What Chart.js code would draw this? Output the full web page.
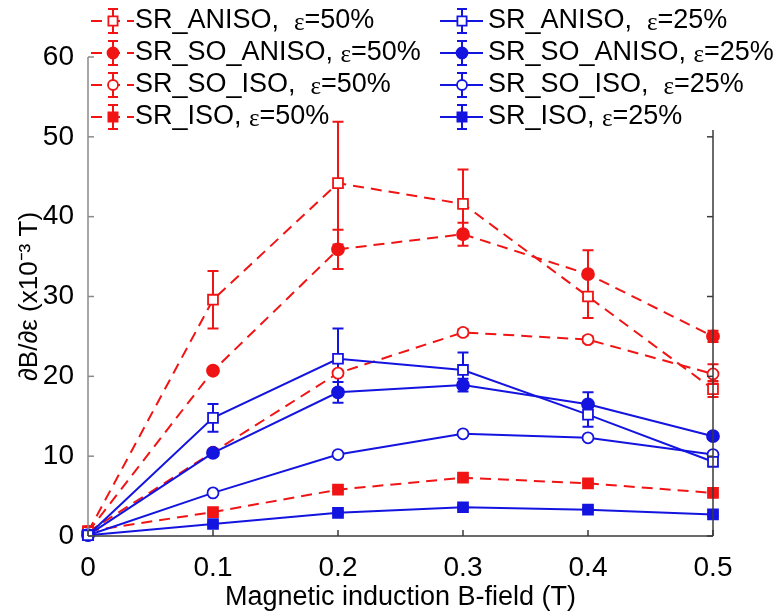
<!DOCTYPE html>
<html><head><meta charset="utf-8">
<script src="https://cdn.jsdelivr.net/npm/chart.js@4/dist/chart.umd.min.js"></script>
<style>html,body{margin:0;padding:0;background:#fff}#wrap{width:778px;height:615px}</style>
</head><body><div id="wrap"><canvas id="c" width="778" height="615"></canvas></div>
<script>
// ---------------- data ----------------
const bField = [0, 0.1, 0.2, 0.3, 0.4, 0.5];
const xTicks = [0, 0.1, 0.2, 0.3, 0.4, 0.5];
const yTicks = [0, 10, 20, 30, 40, 50, 60];

const srAniso50      = [0.5, 29.6, 44.2, 41.6, 30.0, 18.4];
const srAniso50Err   = [0,   3.6,  7.7,  4.3,  2.7,  1.0];
const srSoAniso50    = [0.5, 20.7, 35.9, 37.8, 32.8, 25.0];
const srSoAniso50Err = [0,   0.3,  2.45, 1.45, 3.0,  0.7];
const srSoIso50      = [0.5, 10.5, 20.4, 25.5, 24.6, 20.3];
const srSoIso50Err   = [0,   0.3,  0.3,  0.4,  0.4,  1.2];
const srIso50        = [0.6, 3.0,  5.8,  7.3,  6.6,  5.4];
const srIso50Err     = [0,   0.2,  0.2,  0.2,  0.2,  0.2];

const srAniso25      = [0.1, 14.8, 22.2, 20.8, 15.2, 9.3];
const srAniso25Err   = [0,   1.75, 3.8,  2.2,  1.5,  0.6];
const srSoAniso25    = [0.1, 10.4, 18.0, 18.9, 16.5, 12.5];
const srSoAniso25Err = [0,   0.3,  1.3,  0.8,  1.5,  0.3];
const srSoIso25      = [0.1, 5.4,  10.2, 12.8, 12.3, 10.2];
const srSoIso25Err   = [0,   0.2,  0.2,  0.2,  0.2,  0.2];
const srIso25        = [0.1, 1.5,  2.9,  3.6,  3.3,  2.7];
const srIso25Err     = [0,   0.2,  0.2,  0.2,  0.2,  0.2];

const seriesNames = ['SR_ANISO,  ', 'SR_SO_ANISO, ', 'SR_SO_ISO,  ', 'SR_ISO, '];
const strains = ['50%', '25%'];
const xTitle = 'Magnetic induction B-field (T)';
const yTitle = '\u2202B/\u2202\u03b5 (x10\u207b\u00b3 T)';

// ---------------- styles ----------------
const RED = '#f01414';
const BLUE = '#1414e0';
const FONT = "'Liberation Sans', Arial, sans-serif";

function pts(vals){ return bField.map((x,i)=>({x:x, y:vals[i]})); }

const markerStyles = [
  {pointStyle:'rect',   radius:7,   open:true},
  {pointStyle:'circle', radius:6,   open:false},
  {pointStyle:'circle', radius:5.5, open:true},
  {pointStyle:'rect',   radius:7,   open:false}
];

function mkDataset(vals, errs, nameIdx, strainIdx){
  const col = strainIdx === 0 ? RED : BLUE;
  const m = markerStyles[nameIdx];
  return {
    label: seriesNames[nameIdx] + '\u03b5=' + strains[strainIdx],
    data: pts(vals),
    errors: errs,
    nameIdx: nameIdx, strainIdx: strainIdx,
    borderColor: col,
    borderWidth: 2,
    borderDash: strainIdx === 0 ? [11, 7] : [],
    pointStyle: m.pointStyle,
    pointRadius: m.radius,
    pointBorderWidth: 1.8,
    pointBorderColor: col,
    pointBackgroundColor: m.open ? '#ffffff' : col,
    fill: false,
    tension: 0,
    clip: false,
    order: strainIdx === 0 ? 2 : 1
  };
}

const datasets = [
  mkDataset(srAniso50,   srAniso50Err,   0, 0),
  mkDataset(srSoAniso50, srSoAniso50Err, 1, 0),
  mkDataset(srSoIso50,   srSoIso50Err,   2, 0),
  mkDataset(srIso50,     srIso50Err,     3, 0),
  mkDataset(srAniso25,   srAniso25Err,   0, 1),
  mkDataset(srSoAniso25, srSoAniso25Err, 1, 1),
  mkDataset(srSoIso25,   srSoIso25Err,   2, 1),
  mkDataset(srIso25,     srIso25Err,     3, 1)
];

const LEGEND_BOTTOM = 130;

const errorBars = {
  id: 'errorBars',
  beforeDatasetsDraw(chart){
    const ctx = chart.ctx, xs = chart.scales.x, ys = chart.scales.y;
    ctx.save();
    const order = chart.data.datasets.map((d,i)=>i).sort((a,b)=>chart.data.datasets[b].order - chart.data.datasets[a].order);
    order.forEach(di => {
      const ds = chart.data.datasets[di];
      ctx.strokeStyle = ds.borderColor;
      ctx.lineWidth = 2;
      ctx.setLineDash([]);
      ds.data.forEach((p, i) => {
        const e = ds.errors[i];
        if (!e) return;
        const x = xs.getPixelForValue(p.x);
        const y1 = ys.getPixelForValue(p.y + e);
        const y2 = ys.getPixelForValue(p.y - e);
        const cw = 5.5;
        ctx.beginPath();
        ctx.moveTo(x, y1); ctx.lineTo(x, y2);
        ctx.moveTo(x - cw, y1); ctx.lineTo(x + cw, y1);
        ctx.moveTo(x - cw, y2); ctx.lineTo(x + cw, y2);
        ctx.stroke();
      });
    });
    ctx.restore();
  }
};

const axesAndLegend = {
  id: 'axesAndLegend',
  afterDatasetsDraw(chart){
    const ctx = chart.ctx, xs = chart.scales.x, ys = chart.scales.y;
    const a = chart.chartArea;
    ctx.save();
    ctx.setLineDash([]);
    ctx.strokeStyle = '#8a8a8a'; ctx.lineWidth = 1.5;
    ctx.beginPath(); ctx.moveTo(a.left, a.top); ctx.lineTo(a.left, a.bottom); ctx.stroke();
    yTicks.forEach(v => { const y = ys.getPixelForValue(v);
      ctx.beginPath(); ctx.moveTo(a.left, y); ctx.lineTo(a.left + 6, y); ctx.stroke(); });
    ctx.strokeStyle = '#3a3a3a'; ctx.lineWidth = 1.5;
    ctx.beginPath(); ctx.moveTo(a.left, a.bottom); ctx.lineTo(a.right, a.bottom); ctx.stroke();
    ctx.beginPath(); ctx.moveTo(a.right, LEGEND_BOTTOM); ctx.lineTo(a.right, a.bottom); ctx.stroke();
    xTicks.forEach(v => { const x = xs.getPixelForValue(v);
      ctx.beginPath(); ctx.moveTo(x, a.bottom); ctx.lineTo(x, a.bottom - 6); ctx.stroke(); });
    yTicks.forEach(v => { const y = ys.getPixelForValue(v);
      if (y < LEGEND_BOTTOM) return;
      ctx.beginPath(); ctx.moveTo(a.right, y); ctx.lineTo(a.right - 6, y); ctx.stroke(); });
    ctx.restore();
  },
  afterDraw(chart){
    const ctx = chart.ctx;
    ctx.save();
    const colMarkerX = [113, 462];
    const colTextX = [135, 488];
    const rowY = r => 21 + r * 32;
    chart.data.datasets.forEach(ds => {
      const c = ds.strainIdx, r = ds.nameIdx;
      const mx = colMarkerX[c], y = rowY(r);
      ctx.strokeStyle = ds.borderColor; ctx.lineWidth = 2;
      ctx.setLineDash(ds.borderDash);
      ctx.beginPath(); ctx.moveTo(mx - 22, y); ctx.lineTo(mx + 21, y); ctx.stroke();
      ctx.setLineDash([]);
      const eh = 12, cw = 5;
      ctx.beginPath();
      ctx.moveTo(mx, y - eh); ctx.lineTo(mx, y + eh);
      ctx.moveTo(mx - cw, y - eh); ctx.lineTo(mx + cw, y - eh);
      ctx.moveTo(mx - cw, y + eh); ctx.lineTo(mx + cw, y + eh);
      ctx.stroke();
      ctx.fillStyle = ds.pointBackgroundColor;
      ctx.strokeStyle = ds.pointBorderColor;
      ctx.lineWidth = ds.pointBorderWidth;
      Chart.helpers.drawPoint(ctx, {pointStyle: ds.pointStyle, radius: ds.pointRadius - 0.5, rotation: 0, borderWidth: ds.pointBorderWidth}, mx, y);
      ctx.fillStyle = '#000';
      ctx.textBaseline = 'middle';
      ctx.textAlign = 'left';
      let tx = colTextX[c];
      ctx.font = '27px ' + FONT;
      const t1 = seriesNames[r];
      ctx.fillText(t1, tx, y); tx += ctx.measureText(t1).width;
      ctx.font = '25px "Liberation Serif", "DejaVu Serif", serif';
      ctx.fillText('\u03b5', tx, y + 2); tx += ctx.measureText('\u03b5').width;
      ctx.font = '27px ' + FONT;
      ctx.fillText('=' + strains[c], tx, y);
    });
    ctx.restore();
  }
};

new Chart(document.getElementById('c'), {
  type: 'line',
  data: { datasets: datasets },
  options: {
    responsive: false,
    animation: false,
    devicePixelRatio: 1,
    layout: { padding: { left: 0, right: 65, top: 57, bottom: 0 } },
    plugins: { legend: { display: false }, tooltip: { enabled: false } },
    elements: { line: { borderCapStyle: 'butt' } },
    scales: {
      x: {
        type: 'linear', min: 0, max: 0.5,
        afterBuildTicks: s => { s.ticks = xTicks.map(v => ({value: v})); },
        afterFit: s => { s.height = 79; },
        ticks: { autoSkip: false, maxRotation: 0, padding: 7, color: '#000',
                 font: { family: FONT, size: 28 },
                 callback: v => v === 0 ? '0' : Number(v).toFixed(1) },
        grid: { display: false }, border: { display: false },
        title: { display: true, text: xTitle, color: '#000',
                 font: { family: FONT, size: 27 }, padding: { top: 0, bottom: 1 } }
      },
      y: {
        min: 0, max: 60,
        afterBuildTicks: s => { s.ticks = yTicks.map(v => ({value: v})); },
        afterFit: s => { s.width = 88; },
        ticks: { padding: 6, color: '#000', font: { family: FONT, size: 28 } },
        grid: { display: false }, border: { display: false },
        title: { display: true, text: yTitle, color: '#000',
                 font: { family: FONT, size: 26 }, padding: { top: 14, bottom: 0 } }
      }
    }
  },
  plugins: [errorBars, axesAndLegend]
});
</script>
</body></html>
